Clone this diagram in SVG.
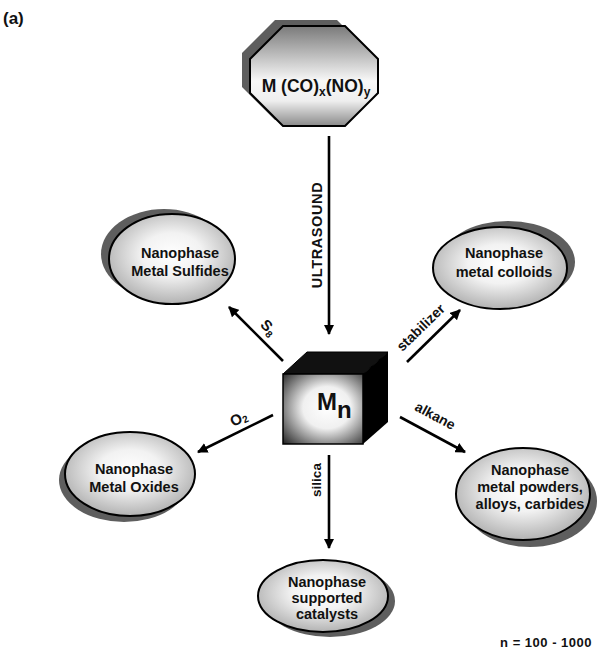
<svg xmlns="http://www.w3.org/2000/svg" width="599" height="656" viewBox="0 0 599 656">
<style>
text{font-family:"Liberation Sans",Arial,sans-serif;font-weight:bold;fill:#111}
.lbl{font-size:14.5px;text-anchor:middle}
.shadow{fill:#5e5e5e}
.ell{fill:url(#eg);stroke:#000;stroke-width:2}
.conn line{stroke:#000;stroke-width:2.6;marker-end:url(#ah)}
.cl{font-size:13.5px;text-anchor:middle}
</style>
<defs>
<radialGradient id="eg" cx="0.5" cy="0.45" r="0.6">
<stop offset="0" stop-color="#ffffff"/>
<stop offset="0.4" stop-color="#f2f2f2"/>
<stop offset="1" stop-color="#a8a8a8"/>
</radialGradient>
<linearGradient id="og" x1="0" y1="0" x2="0" y2="1">
<stop offset="0" stop-color="#7a7a7a"/>
<stop offset="0.55" stop-color="#f8f8f8"/>
<stop offset="0.75" stop-color="#eeeeee"/>
<stop offset="1" stop-color="#8a8a8a"/>
</linearGradient>
<radialGradient id="cg" cx="0.55" cy="0.48" r="0.75">
<stop offset="0" stop-color="#ffffff"/>
<stop offset="0.4" stop-color="#f0f0f0"/>
<stop offset="0.75" stop-color="#777777"/>
<stop offset="1" stop-color="#222222"/>
</radialGradient>
<marker id="ah" viewBox="0 0 10 10" refX="9" refY="5" markerWidth="4" markerHeight="4" orient="auto" markerUnits="strokeWidth">
<path d="M0,0 L10,5 L0,10 Z" fill="#000"/>
</marker>
</defs>
<rect width="599" height="656" fill="#fff"/>
<text x="3" y="24" style="font-size:17px">(a)</text>

<g id="precursor">
<polygon class="shadow" points="275,20 337,20 370,53 370,87 337,120 275,120 242,87 242,53"/>
<polygon points="283,26 345,26 378,59 378,93 345,126 283,126 250,93 250,59" fill="url(#og)" stroke="#000" stroke-width="2"/>
<text x="316" y="92" style="font-size:17.5px" text-anchor="middle">M (CO)<tspan font-size="12" dy="4">x</tspan><tspan dy="-4">(NO)</tspan><tspan font-size="12" dy="4">y</tspan></text>
</g>

<g id="cluster">
<polygon points="283,374 307,352 388,352 363,374" fill="#111" stroke="#000" stroke-width="1"/>
<polygon points="363,374 388,352 388,422 363,444" fill="#000"/>
<rect x="283" y="374" width="80" height="70" fill="url(#cg)" stroke="#000" stroke-width="1.5"/>
<text x="317" y="410" style="font-size:24px">M<tspan dy="8" font-size="24">n</tspan></text>
</g>

<g id="sulfides">
<ellipse class="shadow" cx="164" cy="254" rx="63" ry="45"/>
<ellipse class="ell" cx="172" cy="259" rx="63" ry="45"/>
<text class="lbl" x="180" y="258">Nanophase</text>
<text class="lbl" x="180" y="276">Metal Sulfides</text>
</g>

<g id="colloids">
<ellipse class="shadow" cx="508" cy="262" rx="67" ry="41"/>
<ellipse class="ell" cx="500" cy="268" rx="67" ry="41"/>
<text class="lbl" x="504" y="258">Nanophase</text>
<text class="lbl" x="504" y="277">metal colloids</text>
</g>

<g id="oxides">
<ellipse class="shadow" cx="124" cy="480" rx="65" ry="42"/>
<ellipse class="ell" cx="130" cy="474" rx="65" ry="42"/>
<text class="lbl" x="134" y="474">Nanophase</text>
<text class="lbl" x="134" y="492">Metal Oxides</text>
</g>

<g id="powders">
<ellipse class="shadow" cx="530" cy="501" rx="67" ry="46"/>
<ellipse class="ell" cx="523" cy="494" rx="67" ry="46"/>
<text class="lbl" x="530" y="475">Nanophase</text>
<text class="lbl" x="530" y="492">metal powders,</text>
<text class="lbl" x="530" y="509">alloys, carbides</text>
</g>

<g id="catalysts">
<ellipse class="shadow" cx="330" cy="601" rx="65" ry="36"/>
<ellipse class="ell" cx="323" cy="596" rx="65" ry="36"/>
<text class="lbl" x="327" y="587">Nanophase</text>
<text class="lbl" x="327" y="603">supported</text>
<text class="lbl" x="327" y="619">catalysts</text>
</g>

<g id="connectors" class="conn">
<line x1="329" y1="136" x2="329" y2="334"/>
<line x1="283" y1="361" x2="229" y2="307"/>
<line x1="273" y1="415" x2="198" y2="452"/>
<line x1="329" y1="455" x2="329" y2="548"/>
<line x1="407" y1="362" x2="460" y2="310"/>
<line x1="400" y1="417" x2="465" y2="452"/>
</g>

<g id="connector-labels">
<text class="cl" transform="translate(322,235) rotate(-90)" style="font-size:14.5px;letter-spacing:0.6px">ULTRASOUND</text>
<text class="cl" transform="translate(321,480) rotate(-90)">silica</text>
<text class="cl" transform="translate(265,331) rotate(45)" style="font-size:15px">S<tspan font-size="10" dy="3">8</tspan></text>
<text class="cl" transform="translate(241,423) rotate(-27)" style="font-size:15px">O<tspan font-size="10" dy="2">2</tspan></text>
<text class="cl" transform="translate(424,331) rotate(-44)" style="font-size:14px">stabilizer</text>
<text class="cl" transform="translate(433,420) rotate(28)" style="font-size:14px">alkane</text>
</g>

<text x="592" y="647" style="font-size:13px;letter-spacing:0.5px" text-anchor="end">n = 100 - 1000</text>
</svg>
